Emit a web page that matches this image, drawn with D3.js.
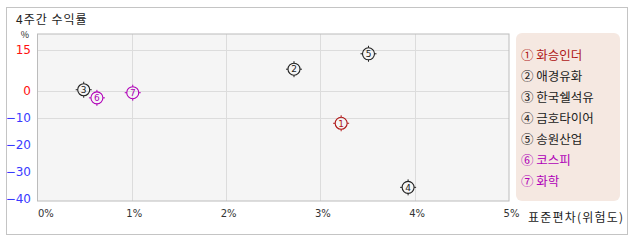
<!DOCTYPE html>
<html>
<head>
<meta charset="utf-8">
<script src="https://cdn.jsdelivr.net/npm/d3@7"></script>
<style>
  body { margin: 0; background: #fff; }
  svg { display: block; font-family: "Noto Sans CJK KR", "DejaVu Sans", sans-serif; }
</style>
</head>
<body>
<svg width="638" height="242"></svg>
<script>
// data
const names = ['화승인더', '애경유화', '한국쉘석유', '금호타이어', '송원산업', '코스피', '화학']
const marks = ['①', '②', '③', '④', '⑤', '⑥', '⑦']
const stdev = [3.22, 2.72, 0.49, 3.93, 3.51, 0.63, 1.01]
const returns = [-12.1, 7.9, 0.3, -35.8, 13.6, -2.7, -0.8]
const colors = ['#b01818', '#222', '#222', '#222', '#222', '#b000b8', '#b000b8']
const yTicks = [15, 0, -10, -20, -30, -40]
const yGrid = [15, 0, -10]
const xTicks = [0, 1, 2, 3, 4, 5]

const svg = d3.select('svg')

const plot = {left: 37.5, right: 509, top: 34, bottom: 201}

const xScale = d3.scaleLinear().domain([0, 5]).range([plot.left, plot.right])
const yScale = d3.scaleLinear().domain([-40, 15]).range([198.7, 50])

// outer frame
svg.append('rect')
  .attr('x', 6.5).attr('y', 7.5).attr('width', 621).attr('height', 227)
  .attr('fill', '#fff').attr('stroke', '#c4c4c4')

svg.append('text').text('4주간 수익률')
  .attr('x', 16).attr('y', 24)
  .attr('font-size', 12).attr('letter-spacing', 1)
  .attr('fill', '#222')

// plot background
svg.append('rect')
  .attr('x', plot.left).attr('y', plot.top)
  .attr('width', plot.right - plot.left).attr('height', plot.bottom - plot.top)
  .attr('fill', '#f5f5f5')

svg.append('g').selectAll('line').data(yGrid)
  .enter().append('line')
    .attr('x1', plot.left).attr('x2', plot.right)
    .attr('y1', d => Math.round(yScale(d)) + 0.5).attr('y2', d => Math.round(yScale(d)) + 0.5)
    .attr('stroke', '#dcdcdc')

svg.append('g').selectAll('line').data(xTicks.slice(1, -1))
  .enter().append('line')
    .attr('y1', plot.top).attr('y2', plot.bottom)
    .attr('x1', d => Math.round(xScale(d)) + 0.5).attr('x2', d => Math.round(xScale(d)) + 0.5)
    .attr('stroke', '#dcdcdc')

svg.append('rect')
  .attr('x', plot.left).attr('y', plot.top)
  .attr('width', plot.right - plot.left).attr('height', plot.bottom - plot.top)
  .attr('fill', 'none').attr('stroke', '#bcbcbc')

// y axis
const yAxisG = svg.append('g')
  .attr('transform', 'translate(33, 0)')
  .call(d3.axisLeft(yScale).tickValues(yTicks).tickSize(0).tickPadding(2))
yAxisG.select('.domain').remove()
yAxisG.selectAll('text')
  .attr('font-size', 12)
  .attr('font-family', '"DejaVu Sans", sans-serif')
  .attr('fill', d => d >= 0 ? '#ff1010' : '#3a3aff')

svg.append('text').text('%')
  .attr('x', 25).attr('y', 38)
  .attr('text-anchor', 'middle')
  .attr('font-size', 9).attr('fill', '#222')

// x axis
const xAxisG = svg.append('g')
  .attr('transform', `translate(0, ${plot.bottom})`)
  .call(d3.axisBottom(xScale).tickValues(xTicks).tickSize(0).tickPadding(9)
    .tickFormat(d => d + '%'))
xAxisG.select('.domain').remove()
xAxisG.selectAll('text')
  .attr('font-size', 10)
  .attr('font-family', '"DejaVu Sans", sans-serif')
  .attr('fill', '#333')
  .attr('dx', d => d === 0 ? 0 : 2)
  .attr('text-anchor', d => d === 0 ? 'start' : 'middle')

svg.append('text').text('표준편차(위험도)')
  .attr('x', 528).attr('y', 222)
  .attr('font-size', 12).attr('letter-spacing', 1.2)
  .attr('fill', '#222')

// points
const points = names.map((n, i) => ({i, x: stdev[i], y: returns[i], c: colors[i]}))

const pg = svg.append('g').selectAll('g').data(points)
  .enter().append('g')
    .attr('transform', d => `translate(${xScale(d.x)}, ${yScale(d.y)})`)

pg.append('circle')
  .attr('r', 6)
  .attr('fill', 'none')
  .attr('stroke', d => d.c)
  .attr('stroke-width', 1.1)

const dirs = [[0, -1], [0, 1], [-1, 0], [1, 0]]
pg.selectAll('line').data(d => dirs.map(v => ({v, c: d.c})))
  .enter().append('line')
    .attr('x1', d => d.v[0] * 6).attr('y1', d => d.v[1] * 6)
    .attr('x2', d => d.v[0] * 8).attr('y2', d => d.v[1] * 8)
    .attr('stroke', d => d.c)

pg.append('text')
  .text(d => d.i + 1)
  .attr('text-anchor', 'middle')
  .attr('dy', '0.36em')
  .attr('font-size', 9)
  .attr('font-family', '"DejaVu Sans", sans-serif')
  .attr('fill', d => d.c)

// legend
svg.append('rect')
  .attr('x', 516).attr('y', 33)
  .attr('width', 104).attr('height', 168)
  .attr('rx', 6)
  .attr('fill', '#f5e8e1')

svg.append('g').selectAll('text').data(names)
  .enter().append('text')
    .text((d, i) => marks[i] + ' ' + d)
    .attr('x', 521)
    .attr('y', (d, i) => 55 + i * 21.1)
    .attr('dy', '0.36em')
    .attr('font-size', 12.5)
    .attr('fill', (d, i) => colors[i] === '#222' ? '#222' : colors[i])
</script>
</body>
</html>
